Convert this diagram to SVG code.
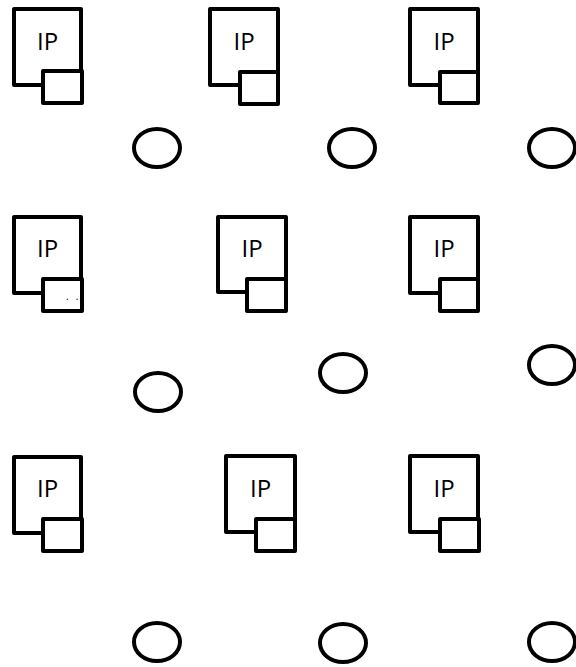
<svg xmlns="http://www.w3.org/2000/svg" width="576" height="667" viewBox="0 0 576 667">
<style>
.b{fill:#fff;stroke:#000;stroke-width:4;stroke-linejoin:round}
.e{fill:#fff;stroke:#000;stroke-width:4}
.t{font-family:"Open Sans","DejaVu Sans",sans-serif;font-size:24px;fill:#000;text-anchor:middle}
.d{font-family:"Open Sans","DejaVu Sans",sans-serif;font-size:10px;fill:#000;letter-spacing:7px}
</style>
<rect width="576" height="667" fill="#fff"/>
<g id="connectors"></g>
<g id="ip11"><rect class="b" x="14" y="9" width="67" height="76"/><rect class="b" x="43" y="71" width="39" height="32"/><text class="t" x="47.5" y="50">IP</text></g>
<g id="ip12"><rect class="b" x="210" y="9" width="68" height="76"/><rect class="b" x="240" y="72" width="38" height="32"/><text class="t" x="244" y="50">IP</text></g>
<g id="ip13"><rect class="b" x="410" y="9" width="68" height="76"/><rect class="b" x="440" y="72" width="38" height="31"/><text class="t" x="444" y="50">IP</text></g>
<g id="ip21"><rect class="b" x="14" y="217" width="67" height="76"/><rect class="b" x="43" y="279" width="39" height="32"/><text class="t" x="47.5" y="257">IP</text><text class="d" x="66" y="300">..</text></g>
<g id="ip22"><rect class="b" x="218" y="217" width="68" height="75"/><rect class="b" x="247" y="279" width="39" height="32"/><text class="t" x="252" y="257">IP</text></g>
<g id="ip23"><rect class="b" x="410" y="217" width="68" height="76"/><rect class="b" x="440" y="279" width="38" height="32"/><text class="t" x="444" y="257">IP</text></g>
<g id="ip31"><rect class="b" x="14" y="457" width="67" height="76"/><rect class="b" x="43" y="519" width="39" height="32"/><text class="t" x="47.5" y="497">IP</text></g>
<g id="ip32"><rect class="b" x="226" y="456" width="69" height="76"/><rect class="b" x="256" y="519" width="39" height="32"/><text class="t" x="260.5" y="497">IP</text></g>
<g id="ip33"><rect class="b" x="410" y="456" width="68" height="76"/><rect class="b" x="440" y="519" width="39" height="32"/><text class="t" x="444" y="497">IP</text></g>
<g id="o11"><ellipse class="e" cx="157" cy="148" rx="23" ry="19"/></g>
<g id="o12"><ellipse class="e" cx="352" cy="148" rx="23" ry="19"/></g>
<g id="o13"><ellipse class="e" cx="552" cy="148" rx="23" ry="19"/></g>
<g id="o21"><ellipse class="e" cx="158" cy="392" rx="23" ry="19"/></g>
<g id="o22"><ellipse class="e" cx="343" cy="373" rx="23" ry="19"/></g>
<g id="o23"><ellipse class="e" cx="552" cy="365" rx="23" ry="19"/></g>
<g id="o31"><ellipse class="e" cx="157" cy="642" rx="23" ry="19"/></g>
<g id="o32"><ellipse class="e" cx="343" cy="643" rx="23" ry="19"/></g>
<g id="o33"><ellipse class="e" cx="552" cy="642" rx="23" ry="19"/></g>
</svg>
